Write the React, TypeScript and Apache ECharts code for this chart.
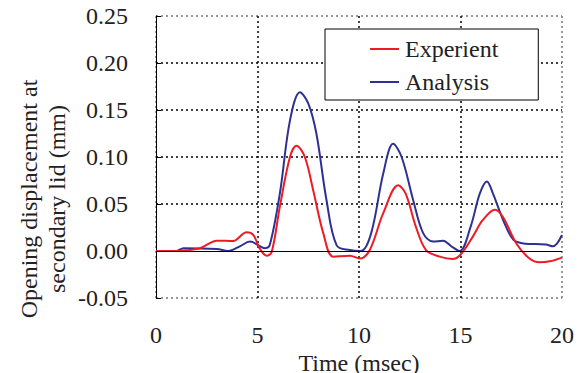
import React, { useEffect, useRef } from "react";
import * as echarts from "echarts";

const xTicks = ["0", "5", "10", "15", "20"];
const yTicks = ["-0.05", "0.00", "0.05", "0.10", "0.15", "0.20", "0.25"];

const experientX = [0, 1.0, 2.17, 3.0, 3.8, 4.46, 4.8, 5.1, 5.45, 5.7, 6.1, 6.6, 6.92, 7.33, 7.74, 8.24, 8.73, 9.55, 10.04, 10.53, 11.19, 11.93, 12.3, 12.8, 13.3, 13.98, 14.6, 15.0, 15.6, 16.1, 16.7, 17.1, 17.75, 18.4, 18.9, 19.4, 20];
const experientY = [0, 0, 0.003, 0.011, 0.0106, 0.02, 0.017, 0.003, -0.005, -0.001, 0.047, 0.1, 0.112, 0.1, 0.065, 0.019, -0.006, -0.005, -0.008, 0.001, 0.04, 0.07, 0.061, 0.026, 0.001, -0.006, -0.0085, -0.004, 0.015, 0.033, 0.044, 0.036, 0.008, -0.008, -0.012, -0.011, -0.007];

const analysisX = [0, 1.0, 1.35, 3.0, 3.56, 4.13, 4.63, 5.37, 5.6, 6.1, 6.6, 7.09, 7.5, 7.9, 8.4, 8.9, 9.55, 10.1, 10.6, 11.2, 11.68, 12.1, 12.67, 13.16, 13.65, 14.14, 14.55, 14.96, 15.5, 15.95, 16.3, 16.6, 17.1, 17.6, 18.1, 19.2, 19.55, 20];
const analysisY = [0, 0, 0.003, 0.002, 0, 0.005, 0.01, 0.003, 0.006, 0.061, 0.139, 0.169, 0.157, 0.125, 0.054, 0.006, 0.001, 0, 0.019, 0.083, 0.114, 0.1, 0.054, 0.019, 0.01, 0.011, 0.005, 0, 0.026, 0.061, 0.074, 0.061, 0.033, 0.012, 0.008, 0.007, 0.005, 0.017];

const xTitle = "Time (msec)";
const yTitle = "Opening displacement at\nsecondary lid (mm)";

const FONT = "'Liberation Serif', 'Times New Roman', serif";
const FS = 24;

export default function App() {
  const ref = useRef<HTMLDivElement>(null);
  useEffect(() => {
    const chart = echarts.init(ref.current!, undefined, { renderer: "svg" });
    const zip = (xs: number[], ys: number[]) => xs.map((x, i) => [x, ys[i]]);
    chart.setOption({
      animation: false,
      backgroundColor: "#fff",
      grid: { left: 156, right: 22, top: 16, bottom: 75, outerBoundsMode: "none", containLabel: false },
      xAxis: {
        type: "value",
        min: 0,
        max: 20,
        interval: 5,
        axisLine: { show: false },
        axisTick: { show: false },
        axisLabel: {
          fontFamily: FONT,
          fontSize: FS,
          lineHeight: 16,
          color: "#222",
          margin: 29,
          formatter: (v: number) => xTicks[Math.round(v / 5)] ?? "",
        },
        splitLine: {
          show: true,
          lineStyle: { type: [2, 3], width: 1.5, color: ["#777", "#000", "#000", "#000", "#777"] },
        },
      },
      yAxis: {
        type: "value",
        min: -0.05,
        max: 0.25,
        interval: 0.05,
        axisLine: { show: true, lineStyle: { color: "#000", width: 1 } },
        axisTick: { show: true, inside: true, length: 5, lineStyle: { color: "#000" } },
        axisLabel: {
          fontFamily: FONT,
          fontSize: FS,
          color: "#222",
          margin: 28,
          formatter: (v: number) => yTicks[Math.round((v + 0.05) / 0.05)] ?? "",
        },
        splitLine: {
          show: true,
          lineStyle: { type: [2, 3], width: 1.5, color: ["#777", "transparent", "#000", "#000", "#000", "#000", "#777"] },
        },
      },
      legend: {
        orient: "vertical",
        left: 325,
        top: 29,
        padding: [8, 40, 6, 45],
        itemGap: 9,
        itemWidth: 29,
        itemHeight: 2,
        icon: "rect",
        backgroundColor: "#fff",
        borderColor: "#000",
        borderWidth: 1,
        borderRadius: 0,
        textStyle: { fontFamily: FONT, fontSize: FS, color: "#222", lineHeight: 22, padding: [0, 0, 0, 1] },
        data: ["Experient", "Analysis"],
      },
      graphic: [
        {
          type: "text",
          x: 43,
          y: 199,
          rotation: Math.PI / 2,
          style: {
            text: yTitle,
            fontFamily: FONT,
            fontSize: FS,
            lineHeight: 28,
            fill: "#222",
            align: "center",
            verticalAlign: "middle",
          },
        },
        {
          type: "text",
          x: 359,
          y: 363,
          style: {
            text: xTitle,
            fontFamily: FONT,
            fontSize: FS,
            lineHeight: 20,
            fill: "#222",
            align: "center",
            verticalAlign: "middle",
          },
        },
      ],
      series: [
        {
          name: "Analysis",
          type: "line",
          data: zip(analysisX, analysisY),
          smooth: 0.35,
          symbol: "none",
          lineStyle: { color: "#2e3192", width: 2 },
          itemStyle: { color: "#2e3192" },
          z: 3,
          markLine: {
            silent: true,
            symbol: "none",
            label: { show: false },
            lineStyle: { color: "#000", type: "solid", width: 1 },
            data: [{ yAxis: 0 }],
          },
        },
        {
          name: "Experient",
          type: "line",
          data: zip(experientX, experientY),
          smooth: 0.35,
          symbol: "none",
          lineStyle: { color: "#ed1c24", width: 2 },
          itemStyle: { color: "#ed1c24" },
          z: 4,
        },
      ],
    });
    return () => chart.dispose();
  }, []);
  return <div ref={ref} style={{ position: "absolute", left: 0, top: 0, width: 584, height: 373 }} />;
}
